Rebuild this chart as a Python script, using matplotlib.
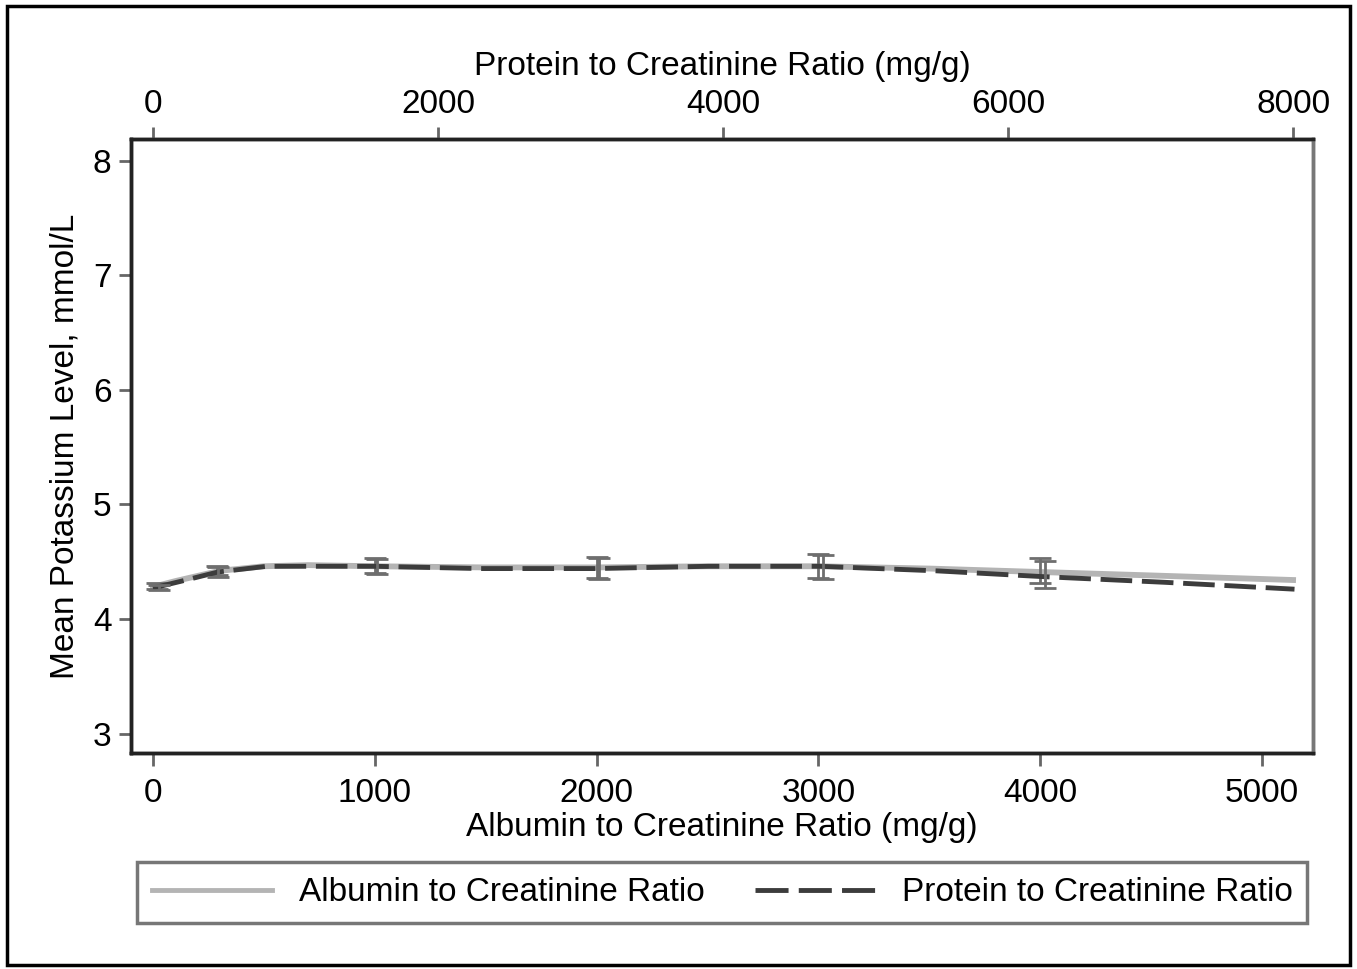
import numpy as np
import matplotlib
matplotlib.use("Agg")
import matplotlib.pyplot as plt
from matplotlib.lines import Line2D
from matplotlib.patches import Rectangle

plt.rcParams['font.family'] = ['Liberation Sans', 'DejaVu Sans']

# albumin to creatinine ratio curve (bottom axis, mg/g)
acr_x = [0, 100, 300, 500, 700, 1000, 1500, 2000, 2500, 3000, 3500, 4000, 4500, 5140]
acr_y = [4.28, 4.33, 4.42, 4.46, 4.47, 4.46, 4.45, 4.45, 4.46, 4.46, 4.44, 4.41, 4.38, 4.34]

# protein to creatinine ratio curve (top axis, mg/g)
pcr_x = [0, 200, 456, 800, 1551, 2300, 3102, 3900, 4680, 5500, 6238, 7100, 8010]
pcr_y = [4.27, 4.33, 4.41, 4.46, 4.46, 4.44, 4.44, 4.46, 4.46, 4.42, 4.37, 4.32, 4.26]

# confidence intervals
acr_ci_x = [20, 290, 1000, 2000, 3000, 4000]
acr_ci_lo = [4.26, 4.38, 4.40, 4.36, 4.36, 4.31]
acr_ci_hi = [4.31, 4.46, 4.53, 4.54, 4.57, 4.53]
pcr_ci_x = [40, 460, 1570, 3130, 4700, 6260]
pcr_ci_lo = [4.25, 4.37, 4.39, 4.35, 4.35, 4.27]
pcr_ci_hi = [4.30, 4.45, 4.52, 4.53, 4.56, 4.51]

ACR_COLOR = "#b4b4b4"
PCR_COLOR = "#3c3c3c"
BAR_COLOR = "#6e6e6e"
FS = 24
DASH = (6.5, 2)

fig = plt.figure(figsize=(13.57, 9.69), dpi=100)
fig.patches.append(Rectangle((0.005, 0.004), 0.99, 0.99, transform=fig.transFigure,
                             fill=False, edgecolor="black", linewidth=2.5))

ax = fig.add_axes([0.0965, 0.2229, 0.8711, 0.6337])
ax2 = ax.twiny()

ax.plot(acr_x, acr_y, color=ACR_COLOR, linewidth=4.2, zorder=3)
mid = (np.array(acr_ci_lo) + np.array(acr_ci_hi)) / 2
err = (np.array(acr_ci_hi) - np.array(acr_ci_lo)) / 2
ax.errorbar(acr_ci_x, mid, yerr=err, fmt="none", ecolor=BAR_COLOR,
            elinewidth=2, capsize=8, capthick=2, zorder=4)

ax2.plot(pcr_x, pcr_y, color=PCR_COLOR, linewidth=3.5, dashes=DASH, zorder=3)
mid = (np.array(pcr_ci_lo) + np.array(pcr_ci_hi)) / 2
err = (np.array(pcr_ci_hi) - np.array(pcr_ci_lo)) / 2
ax2.errorbar(pcr_ci_x, mid, yerr=err, fmt="none", ecolor=BAR_COLOR,
             elinewidth=2, capsize=8, capthick=2, zorder=4)

ax.set_xlim(-99, 5230)
ax2.set_xlim(-154, 8140)
ax.set_ylim(2.83, 8.19)

ax.set_xticks([0, 1000, 2000, 3000, 4000, 5000])
ax2.set_xticks([0, 2000, 4000, 6000, 8000])
ax.set_yticks([3, 4, 5, 6, 7, 8])

for a in (ax, ax2):
    a.tick_params(direction="out", length=9, width=2, color="#666666",
                  labelsize=FS, pad=5)
    for s in a.spines.values():
        s.set_linewidth(2.5)
        s.set_color("#222222")
ax.tick_params(axis="x", pad=9)
ax.spines["right"].set_color("#777777")
ax2.spines["right"].set_color("#777777")

ax.set_xlabel("Albumin to Creatinine Ratio (mg/g)", fontsize=FS, labelpad=2)
ax2.set_xlabel("Protein to Creatinine Ratio (mg/g)", fontsize=FS, labelpad=10)
ax.set_ylabel("Mean Potassium Level, mmol/L", fontsize=FS, labelpad=9)

handles = [Line2D([], [], color=ACR_COLOR, linewidth=3.5),
           Line2D([], [], color=PCR_COLOR, linewidth=3.5, dashes=(6.8, 2.1))]
leg = fig.legend(handles, ["Albumin to Creatinine Ratio", "Protein to Creatinine Ratio"],
                 loc="center", bbox_to_anchor=(0.5324, 0.0785), ncol=2, fontsize=FS,
                 frameon=True, fancybox=False, handlelength=3.6, handletextpad=0.8,
                 columnspacing=1.5, borderpad=0.45)
leg.get_frame().set_edgecolor("#555555")
leg.get_frame().set_linewidth(2.5)

fig.savefig("out.png", dpi=100)
